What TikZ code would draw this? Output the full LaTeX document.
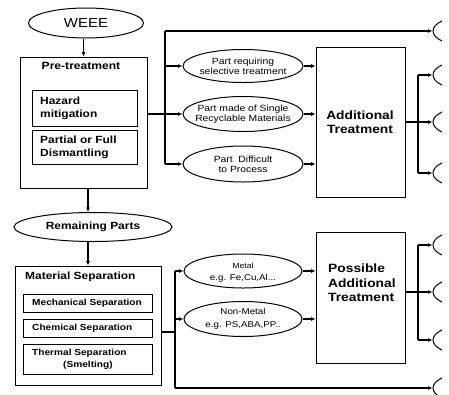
\documentclass[tikz,border=0pt]{standalone}
\usepackage{fontspec}
\setmainfont{Liberation Sans}[FakeStretch=1.15]
\usetikzlibrary{arrows.meta,shapes.geometric}
\begin{document}
\begin{tikzpicture}[x=1pt,y=-1pt,
  box/.style={draw, line width=0.9pt, rectangle, inner sep=0pt},
  oval/.style={draw, ellipse, line width=1pt, inner sep=0pt},
  etext/.style={inner sep=0pt, align=center, font=\fontsize{9}{10}\selectfont},
  conn/.style={line width=1.3pt},
  arr/.style={conn, -{Latex[length=4.5pt,width=4pt]}},
  lbl/.style={inner sep=0pt, align=left, anchor=west, font=\bfseries}]
\useasboundingbox (0,0) rectangle (449,394);
\begin{scope}
\clip (0,0) rectangle (442,394);
% top-left
\node[oval, minimum width=115pt, minimum height=30pt, font=\fontsize{13}{15}\selectfont] (weee) at (86,23) {WEEE};
\node[box, minimum width=127pt, minimum height=131pt] (pre) at (83.5,122.5) {};
\node[inner sep=0pt, font=\bfseries\fontsize{10.5}{12}\selectfont] (pret) at (81,66) {Pre-treatment};
\node[box, minimum width=105pt, minimum height=36pt] (haz) at (84.5,108) {};
\node[lbl, font=\bfseries\fontsize{10.4}{13}\selectfont] (hazt) at (40,108) {Hazard\\mitigation};
\node[box, minimum width=105pt, minimum height=34pt] (dis) at (84.5,147) {};
\node[lbl, font=\bfseries\fontsize{10.4}{13}\selectfont] (dist) at (40,147) {Partial or Full\\Dismantling};
% remaining parts
\node[oval, minimum width=158pt, minimum height=29pt, font=\bfseries\fontsize{10.4}{12}\selectfont] (rem) at (93,227) {Remaining Parts};
% material separation
\node[box, minimum width=146pt, minimum height=119pt] (mat) at (88,325.5) {};
\node[lbl, font=\bfseries\fontsize{10.4}{12}\selectfont] (matt) at (25,277) {Material Separation};
\node[box, minimum width=129pt, minimum height=18pt] (mech) at (87.5,303) {};
\node[lbl, font=\bfseries\fontsize{8.8}{10}\selectfont] (mecht) at (32,303) {Mechanical Separation};
\node[box, minimum width=129pt, minimum height=18pt] (chem) at (87.5,328) {};
\node[lbl, font=\bfseries\fontsize{8.8}{10}\selectfont] (chemt) at (32,328) {Chemical Separation};
\node[box, minimum width=129pt, minimum height=30pt] (therm) at (87.5,359) {};
\node[lbl, font=\bfseries\fontsize{8.8}{11.5}\selectfont] (thermt) at (32,359) {Thermal Separation\\\hspace*{31pt}(Smelting)};
% middle ellipses top
\node[oval, minimum width=120pt, minimum height=33pt] (e1) at (243,66) {};
\node[etext] at (e1) {Part requiring\\selective treatment};
\node[oval, minimum width=120pt, minimum height=35pt] (e2) at (243,114) {};
\node[etext] at (e2) {Part made of Single\\Recyclable Materials};
\node[oval, minimum width=120pt, minimum height=36pt] (e3) at (243,164) {};
\node[etext] at (e3) {Part~ Difficult\\to Process};
% middle ellipses bottom
\node[oval, minimum width=118pt, minimum height=34pt] (me) at (243,271) {};
\node[etext, font=\fontsize{8.5}{12}\selectfont] at ([yshift=-1.5pt]me.center) {{\fontsize{7.5}{12}\selectfont Metal}\\e.g. Fe,Cu,Al...};
\node[oval, minimum width=118pt, minimum height=35pt] (nm) at (243,319) {};
\node[etext, font=\fontsize{8.5}{12.5}\selectfont] at (nm) {Non-Metal\\e.g. PS,ABA,PP..};
% treatment boxes
\node[box, minimum width=89pt, minimum height=150pt] (add) at (360.5,122) {};
\node[inner sep=0pt, align=center, font=\bfseries\fontsize{12}{14}\selectfont] (addt) at (360,122) {Additional\\Treatment};
\node[box, minimum width=89pt, minimum height=131pt] (pos) at (360.5,297.5) {};
\node[lbl, font=\bfseries\fontsize{12}{14.5}\selectfont] (post) at (328,283) {Possible\\Additional\\Treatment};
% right edge ellipses
\foreach \n/\yy in {r1/31,r2/75,r3/122,r4/173,r5/245,r6/292,r7/340,r8/388}
  \node[oval, minimum width=60pt, minimum height=28pt] (\n) at (463,\yy) {};
% connectors
\draw[arr] (pre.north |- weee.south) -- (pre.north);
\draw[arr] ([xshift=4.5pt]pre.south) -- ([xshift=4.5pt]pre.south |- rem.north);
\draw[arr] ([xshift=-5pt]rem.south) -- ([xshift=-5pt]rem.south |- mat.north);
\coordinate (lt) at (165,31);
\draw[arr] (pre.east |- e2) -- (e2.west);
\draw[conn] (lt) -- (lt |- e3);
\draw[arr] (lt) -- (r1.west);
\draw[arr] (lt |- e1) -- (e1.west);
\draw[arr] (lt |- e3) -- (e3.west);
\draw[arr] (e1.east) -- (e1.east -| add.west);
\draw[arr] (e2.east) -- (e2.east -| add.west);
\draw[arr] (e3.east) -- (e3.east -| add.west);
\coordinate (rt) at (418,122);
\draw[conn] (add.east) -- (rt);
\draw[conn] (rt |- r2) -- (rt |- r4);
\draw[arr] (rt |- r2) -- (r2.west);
\draw[arr] (rt |- r3) -- (r3.west);
\draw[arr] (rt |- r4) -- (r4.west);
\coordinate (mj) at (175,332);
\draw[conn] (mat.east |- mj) -- (mj);
\draw[conn] (mj |- me) -- (mj |- r8);
\draw[arr] (mj |- me) -- (me.west);
\draw[arr] (mj |- nm) -- (nm.west);
\draw[arr] (mj |- r8) -- (r8.west);
\draw[arr] (me.east) -- (me.east -| pos.west);
\draw[arr] (nm.east) -- (nm.east -| pos.west);
\coordinate (rb) at (418,292);
\draw[conn] (pos.east |- r6) -- (rb);
\draw[conn] (rb |- r5) -- (rb |- r7);
\draw[arr] (rb |- r5) -- (r5.west);
\draw[arr] (rb |- r6) -- (r6.west);
\draw[arr] (rb |- r7) -- (r7.west);
\end{scope}
\end{tikzpicture}
\end{document}
